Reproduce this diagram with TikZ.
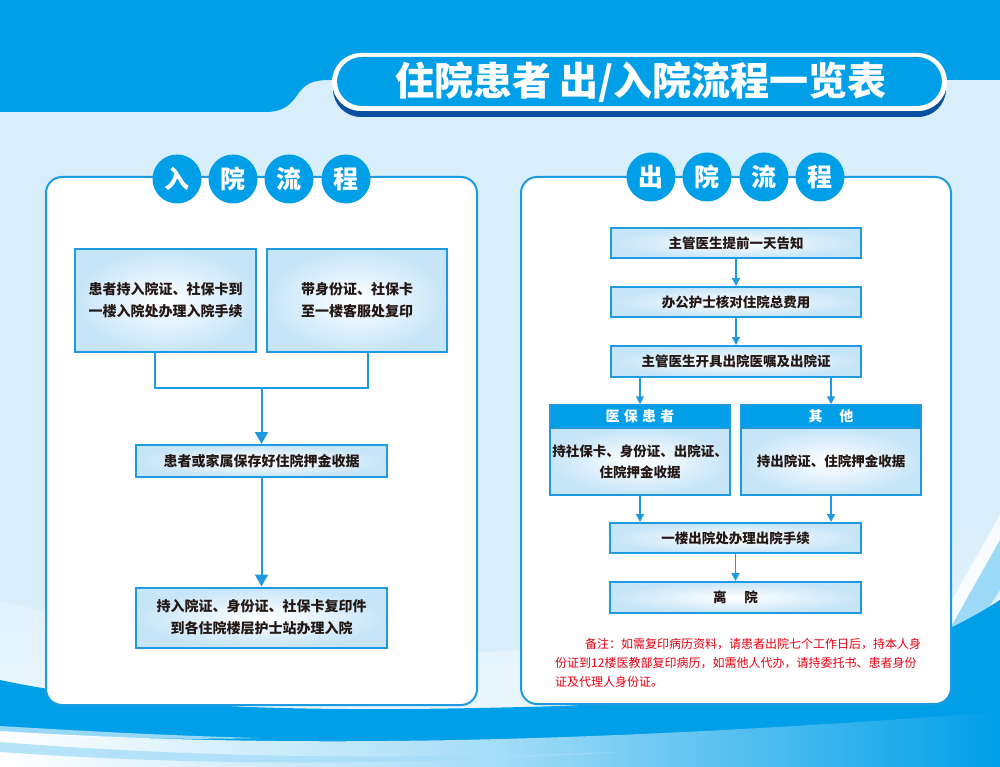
\documentclass[tikz,border=0pt]{standalone}
\usepackage{fontspec}
\setmainfont{Noto Sans CJK SC}
\usetikzlibrary{arrows.meta,shadings}
\definecolor{bblue}{HTML}{009FE8}
\definecolor{lblue}{HTML}{D8EEFB}
\definecolor{bord}{HTML}{1E9BE0}
\definecolor{boxin}{HTML}{C6E5F8}
\definecolor{dblue}{HTML}{0A4FA0}
\definecolor{notered}{HTML}{E60012}
\definecolor{txt}{HTML}{231815}
\tikzset{
  panel/.style={draw=bord, line width=2pt, fill=white, rounded corners=16pt},
  circ/.style={circle, fill=bblue, minimum size=49pt, inner sep=0pt, text=white, font=\bfseries\fontsize{25}{25}\selectfont},
  flowbox/.style={draw=bord, line width=2pt, inner color=white, outer color=boxin, align=center, text=txt, font=\bfseries\fontsize{14}{22}\selectfont, inner sep=0pt},
  headbox/.style={draw=bord, line width=1.5pt, fill=bblue, text=white, font=\bfseries\fontsize{14}{14}\selectfont, inner sep=0pt},
  bigarrow/.style={draw=bord, line width=2pt, -{Triangle[width=13pt,length=12pt]}},
  smallarrow/.style={draw=bord, line width=1.5pt, -{Triangle[width=8pt,length=8pt]}},
  plainline/.style={draw=bord, line width=2pt}
}
\begin{document}
\begin{tikzpicture}[x=1pt,y=-1pt]
\useasboundingbox (0,0) rectangle (1000,767);
% background
\fill[lblue] (0,0) rectangle (1000,767);
\fill[bblue] (0,0) -- (1000,0) -- (1000,80) -- (330,80) .. controls (312,80) and (305,84) .. (298,94) .. controls (290,106) and (282,112) .. (265,112) -- (0,112) -- cycle;
% bottom decoration
\shade[top color=lblue, bottom color=white, opacity=0.6] (0,600) .. controls (300,680) and (700,690) .. (1000,500) -- (1000,767) -- (0,767) -- cycle;
\fill[white, opacity=0.8] (952,600) -- (1000,515) -- (1000,540) -- (952,625) -- cycle;
\fill[bblue!45, opacity=0.8] (952,625) -- (1000,540) -- (1000,590) -- (952,665) -- cycle;
\fill[bblue] (0,680) .. controls (150,712) and (350,712) .. (560,706) .. controls (760,698) and (900,665) .. (1000,600) -- (1000,767) -- (0,767) -- cycle;
\shade[left color=white, right color=bblue, middle color=white!40!bblue!60] (0,731) .. controls (300,750) and (600,742) .. (1000,712) -- (1000,767) -- (0,767) -- cycle;
\fill[bblue!35, opacity=0.8] (0,742) .. controls (200,758) and (400,760) .. (620,752) .. controls (400,766) and (200,766) .. (0,752) -- cycle;
\fill[white, opacity=0.6] (0,726) .. controls (100,732) and (180,736) .. (260,738) .. controls (180,740) and (90,738) .. (0,733) -- cycle;
% title pill
\fill[dblue, rounded corners=28pt] (333,59) rectangle (946,117);
\fill[white, rounded corners=29pt] (332,53) rectangle (947,111);
\fill[bblue, rounded corners=25pt] (337,57) rectangle (942,106);
\node[text=white, font=\bfseries\fontsize{39}{39}\selectfont, inner sep=0pt] (title) at (641,82) {住院患者 出/入院流程一览表};
% panels
\draw[panel] (46,177) rectangle (477,705);
\draw[panel] (521,177) rectangle (951,704);
% circles
\node[circ] (l1) at (177,179) {入};
\node[circ] (l2) at (233,179) {院};
\node[circ] (l3) at (289,179) {流};
\node[circ] (l4) at (346,179) {程};
\node[circ] (r1) at (651,177) {出};
\node[circ] (r2) at (707,177) {院};
\node[circ] (r3) at (764,177) {流};
\node[circ] (r4) at (820,177) {程};
% left flow
\node[flowbox, minimum width=181pt, minimum height=103pt] (A) at (165.5,300.5) {患者持入院证、社保卡到\\一楼入院处办理入院手续};
\node[flowbox, minimum width=180pt, minimum height=103pt] (B) at (357,300.5) {带身份证、社保卡\\至一楼客服处复印};
\node[flowbox, minimum width=251pt, minimum height=32pt] (C) at (261.5,461) {患者或家属保存好住院押金收据};
\node[flowbox, minimum width=251pt, minimum height=60pt] (D) at (261.5,617.5) {持入院证、身份证、社保卡复印件\\到各住院楼层护士站办理入院};
\coordinate (J) at (261.5,388);
\draw[plainline] ([xshift=-10.5pt]A.south) |- (J) -| ([xshift=11pt]B.south);
\draw[bigarrow] (J) -- (C.north);
\draw[bigarrow] (C.south) -- (D.north);
% right flow
\tikzset{flowbox/.append style={font=\bfseries\fontsize{13.5}{21}\selectfont}}
\node[flowbox, minimum width=250pt, minimum height=30pt] (R1) at (736,243) {主管医生提前一天告知};
\node[flowbox, minimum width=250pt, minimum height=30pt] (R2) at (736,302) {办公护士核对住院总费用};
\node[flowbox, minimum width=250pt, minimum height=31pt] (R3) at (736,361.5) {主管医生开具出院医嘱及出院证};
\node[headbox, minimum width=180pt, minimum height=23pt] (MH) at (640,416.5) {医\hspace{0.3em}保\hspace{0.3em}患\hspace{0.3em}者};
\node[flowbox, minimum width=180pt, minimum height=67pt] (MB) at (640,461.5) {持社保卡、身份证、出院证、\\住院押金收据};
\node[headbox, minimum width=180pt, minimum height=23pt] (OH) at (831,416.5) {其\hspace{1.2em}他};
\node[flowbox, minimum width=180pt, minimum height=67pt] (OB) at (831,461.5) {持出院证、住院押金收据};
\node[flowbox, minimum width=251pt, minimum height=30pt] (R4) at (735.5,538) {一楼出院处办理出院手续};
\node[flowbox, minimum width=251pt, minimum height=31pt] (R5) at (735.5,597.5) {离\hspace{1.3em}院};
\draw[smallarrow] (R1.south) -- (R2.north);
\draw[smallarrow] (R2.south) -- (R3.north);
\draw[smallarrow] (R3.south -| MH.north) -- (MH.north);
\draw[smallarrow] (R3.south -| OH.north) -- (OH.north);
\draw[smallarrow] (MB.south) -- (MB.south |- R4.north);
\draw[smallarrow] (OB.south) -- (OB.south |- R4.north);
\draw[smallarrow] (R4.south) -- (R5.north);
% note
\node[anchor=north west, align=left, text=notered, font=\fontsize{12}{19}\selectfont, inner sep=0pt] (note) at (555,638) {\hspace*{2.5em}备注：如需复印病历资料，请患者出院七个工作日后，持本人身\\份证到12楼医教部复印病历，如需他人代办，请持委托书、患者身份\\证及代理人身份证。};
\end{tikzpicture}
\end{document}
